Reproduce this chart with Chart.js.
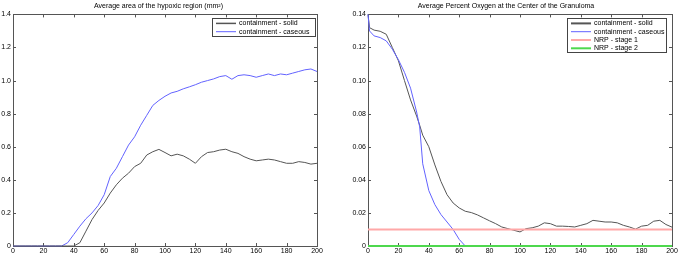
<!DOCTYPE html>
<html>
<head>
<meta charset="utf-8">
<script src="https://cdn.jsdelivr.net/npm/chart.js@4.4.1/dist/chart.umd.min.js"></script>
<style>
  html, body { margin: 0; padding: 0; background: #fff; }
  #wrap { position: relative; width: 680px; height: 256px; }
  .pane { position: absolute; top: 0; width: 340px; height: 256px; }
</style>
</head>
<body>
<div id="wrap">
  <div class="pane" style="left:0"><canvas id="area-chart" width="340" height="256"></canvas></div>
  <div class="pane" style="left:340px"><canvas id="oxygen-chart" width="340" height="256"></canvas></div>
</div>
<script>
// hypoxic area (mm^2) over time
const areaTime = [0, 4, 8, 12, 16, 20, 24, 28, 32, 36, 40, 44, 48, 52, 56, 60, 64, 68, 72, 76, 80, 84, 88, 92, 96, 100,
  104, 108, 112, 116, 120, 124, 128, 132, 136, 140, 144, 148, 152, 156, 160, 164, 168, 172, 176, 180, 184, 188, 192, 196, 200];
const areaSolid = [0, 0, 0, 0, 0, 0, 0, 0, 0, 0, 0, 0.02, 0.09, 0.16, 0.215, 0.26, 0.32, 0.37, 0.41, 0.44, 0.48, 0.50, 0.55, 0.57, 0.584, 0.565,
  0.545, 0.555, 0.545, 0.525, 0.50, 0.54, 0.565, 0.57, 0.58, 0.585, 0.57, 0.56, 0.54, 0.525, 0.515, 0.52, 0.525, 0.52, 0.51, 0.50, 0.50, 0.51, 0.505, 0.495, 0.50];
const areaCaseous = [0, 0, 0, 0, 0, 0, 0, 0, 0, 0.02, 0.07, 0.12, 0.165, 0.20, 0.245, 0.31, 0.42, 0.47, 0.54, 0.61, 0.66, 0.73, 0.79, 0.85, 0.88, 0.905,
  0.925, 0.935, 0.95, 0.962, 0.975, 0.99, 1.0, 1.01, 1.024, 1.03, 1.008, 1.03, 1.035, 1.03, 1.02, 1.03, 1.04, 1.03, 1.04, 1.035, 1.045, 1.055, 1.065, 1.07, 1.055];

// percent oxygen at the granuloma center
const oxyTime = [0, 1, 4, 8, 12, 16, 20, 24, 28, 32, 34, 36, 40, 44, 48, 52, 56, 60, 64, 68, 72, 76, 80, 84, 88, 92, 96, 100,
  104, 108, 112, 116, 120, 124, 128, 132, 136, 140, 144, 148, 152, 156, 160, 164, 168, 172, 176, 180, 184, 188, 192, 196, 200];
const oxySolid = [0.14, 0.132, 0.1305, 0.1298, 0.128, 0.120, 0.112, 0.100, 0.0883, 0.0785, 0.073, 0.067, 0.060, 0.049, 0.039, 0.031, 0.026, 0.023,
  0.021, 0.0202, 0.0188, 0.017, 0.0152, 0.0135, 0.0115, 0.0105, 0.0095, 0.0085, 0.0105, 0.011, 0.012, 0.014, 0.0135, 0.012, 0.012,
  0.0118, 0.0115, 0.0125, 0.0135, 0.0155, 0.015, 0.0145, 0.0145, 0.014, 0.0125, 0.0115, 0.0102, 0.012, 0.0125, 0.015, 0.0155, 0.013, 0.0114];
const oxyCaseous = [0.14, 0.130, 0.127, 0.126, 0.124, 0.119, 0.1126, 0.105, 0.0954, 0.081, 0.072, 0.0497, 0.0335, 0.025, 0.019, 0.0145, 0.010, 0.004, 0,
  0, 0, 0, 0, 0, 0, 0, 0, 0, 0, 0, 0, 0, 0, 0, 0, 0, 0, 0, 0, 0, 0, 0, 0, 0, 0, 0, 0, 0, 0, 0, 0, 0, 0];
const nrpStage1 = 0.01;
const nrpStage2 = 0;
const timeRange = [0, 200];

const FONT = 'Liberation Sans, Arial, Helvetica, sans-serif';
Chart.defaults.font.family = FONT;
Chart.defaults.font.size = 7;
Chart.defaults.color = '#000';

function pts(xs, ys) {
  return xs.map((x, i) => ({ x: x, y: ys[i] }));
}

// matlab style box with inward ticks on all sides
const boxAxes = {
  id: 'boxAxes',
  beforeDatasetsDraw(chart) {
    const { ctx, chartArea: a, scales } = chart;
    ctx.save();
    ctx.strokeStyle = '#555';
    ctx.lineWidth = 1;
    ctx.strokeRect(Math.round(a.left) + 0.5, Math.round(a.top) + 0.5, Math.round(a.right - a.left), Math.round(a.bottom - a.top));
    const tl = 3;
    ctx.beginPath();
    scales.x.ticks.forEach(t => {
      const px = Math.round(scales.x.getPixelForValue(t.value)) + 0.5;
      ctx.moveTo(px, a.bottom); ctx.lineTo(px, a.bottom - tl);
      ctx.moveTo(px, a.top); ctx.lineTo(px, a.top + tl);
    });
    scales.y.ticks.forEach(t => {
      const py = Math.round(scales.y.getPixelForValue(t.value)) + 0.5;
      ctx.moveTo(a.left, py); ctx.lineTo(a.left + tl, py);
      ctx.moveTo(a.right, py); ctx.lineTo(a.right - tl, py);
    });
    ctx.stroke();
    ctx.restore();
  }
};

// boxed legend inside the top right corner
const boxLegend = {
  id: 'boxLegend',
  afterDraw(chart, args, opts) {
    const { ctx, chartArea: a } = chart;
    const sets = chart.data.datasets;
    const w = opts.width, h = 1.5 + sets.length * 8.2;
    const left = a.right - opts.right - w, top = a.top + 4;
    ctx.save();
    ctx.fillStyle = '#fff';
    ctx.fillRect(left, top, w, h);
    ctx.strokeStyle = '#444';
    ctx.lineWidth = 1;
    ctx.strokeRect(Math.round(left) + 0.5, Math.round(top) + 0.5, Math.round(w), Math.round(h));
    ctx.font = '7px ' + FONT;
    ctx.textBaseline = 'middle';
    ctx.fillStyle = '#000';
    sets.forEach((ds, i) => {
      const y = top + 5 + i * 8.3;
      ctx.strokeStyle = ds.borderColor;
      ctx.lineWidth = ds.legendWidth || ds.borderWidth;
      ctx.beginPath();
      ctx.moveTo(left + 4, y); ctx.lineTo(left + 24, y);
      ctx.stroke();
      ctx.fillText(ds.label, left + 27, y);
    });
    ctx.restore();
  }
};

function makeOptions(title, yMax, yStep, yWidth, padRight, legendW, legendRight) {
  return {
    responsive: false,
    animation: false,
    layout: { padding: { left: 0, right: padRight, top: 0, bottom: 0 } },
    elements: { point: { radius: 0 }, line: { tension: 0 } },
    scales: {
      x: {
        type: 'linear', min: timeRange[0], max: timeRange[1],
        grid: { display: false, drawTicks: false },
        border: { display: false },
        ticks: { stepSize: 20, padding: 1, maxRotation: 0, autoSkip: false },
        afterFit(s) { s.height = 10; }
      },
      y: {
        min: 0, max: yMax,
        grid: { display: false, drawTicks: false },
        border: { display: false },
        ticks: { stepSize: yStep, padding: 2, autoSkip: false },
        afterFit(s) { s.width = yWidth; }
      }
    },
    plugins: {
      legend: { display: false },
      tooltip: { enabled: false },
      title: { display: true, text: title, font: { size: 7, weight: 'normal' }, padding: { top: 2, bottom: 4 }, color: '#000' },
      boxLegend: { width: legendW, right: legendRight }
    }
  };
}

new Chart(document.getElementById('area-chart'), {
  type: 'line',
  data: {
    datasets: [
      { label: 'containment - solid', data: pts(areaTime, areaSolid), borderColor: '#555555', borderWidth: 1, legendWidth: 1.5, clip: 2 },
      { label: 'containment - caseous', data: pts(areaTime, areaCaseous), borderColor: '#6262ff', borderWidth: 1, clip: 2 }
    ]
  },
  options: makeOptions('Average area of the hypoxic region (mm\u00b2)', 1.4, 0.2, 13, 23, 103, 2),
  plugins: [boxAxes, boxLegend]
});

new Chart(document.getElementById('oxygen-chart'), {
  type: 'line',
  data: {
    datasets: [
      { label: 'containment - solid', data: pts(oxyTime, oxySolid), borderColor: '#555555', borderWidth: 1, legendWidth: 2, clip: 2, order: 3 },
      { label: 'containment - caseous', data: pts(oxyTime, oxyCaseous), borderColor: '#6262ff', borderWidth: 1, clip: 2, order: 2 },
      { label: 'NRP - stage 1', data: pts(timeRange, [nrpStage1, nrpStage1]), borderColor: '#ffa8a8', borderWidth: 2, clip: 2, order: 1 },
      { label: 'NRP - stage 2', data: pts(timeRange, [nrpStage2, nrpStage2]), borderColor: '#4ed84e', borderWidth: 2, clip: 2, order: 0 }
    ]
  },
  options: makeOptions('Average Percent Oxygen at the Center of the Granuloma', 0.14, 0.02, 28, 8, 99, 6),
  plugins: [boxAxes, boxLegend]
});
</script>
</body>
</html>
